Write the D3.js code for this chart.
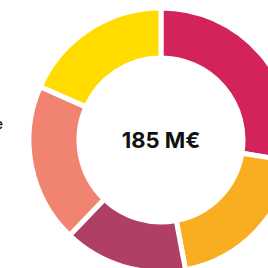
<!DOCTYPE html>
<html>
<head>
<meta charset="utf-8">
<script src="https://cdn.jsdelivr.net/npm/d3@7"></script>
<style>
  html, body { margin: 0; padding: 0; background: #fff; overflow: hidden; }
  svg { display: block; }
</style>
</head>
<body>
<svg id="chart"></svg>
<script>
// values in M€ (clockwise from top)
var categories = ["A", "B", "C", "D", "E"];
var values = [51, 36, 28, 36, 34];
var colours = ["#d2245a", "#f9ae22", "#b03f64", "#f08470", "#ffdb00"];
var totalLabel = "185 M€";
var legendLabel = "Île-de-France";

var width = 268,
    height = 268,
    cx = 161, cy = 140,
    outerR = 132, innerR = 82;

var svg = d3.select("#chart")
  .attr("width", width)
  .attr("height", height);

var colour = d3.scaleOrdinal().domain(categories).range(colours);

var pie = d3.pie().sort(null).value(function (d) { return d.v; });
var arc = d3.arc().innerRadius(innerR).outerRadius(outerR);

var data = categories.map(function (c, i) { return {c: c, v: values[i]}; });

var g = svg.append("g")
  .attr("transform", "translate(" + cx + "," + cy + ")");

g.selectAll("path")
  .data(pie(data))
  .enter()
  .append("path")
  .attr("d", arc)
  .style("fill", function (d) { return colour(d.data.c); })
  .style("stroke", "#fff")
  .style("stroke-width", 5)
  .style("stroke-linejoin", "miter");

// total in the middle
g.append("text")
  .attr("x", 0)
  .attr("y", 0)
  .attr("dy", "0.35em")
  .attr("text-anchor", "middle")
  .style("font-family", "Inter, 'Open Sans', sans-serif")
  .style("font-weight", 700)
  .style("font-size", "22px")
  .style("fill", "#111")
  .text(totalLabel);

// legend text, cut off by the left edge as in the original
svg.append("text")
  .attr("x", 3)
  .attr("y", 129)
  .attr("text-anchor", "end")
  .style("font-family", "Inter, 'Open Sans', sans-serif")
  .style("font-weight", 500)
  .style("font-size", "14px")
  .style("fill", "#111")
  .text(legendLabel);
</script>
</body>
</html>
